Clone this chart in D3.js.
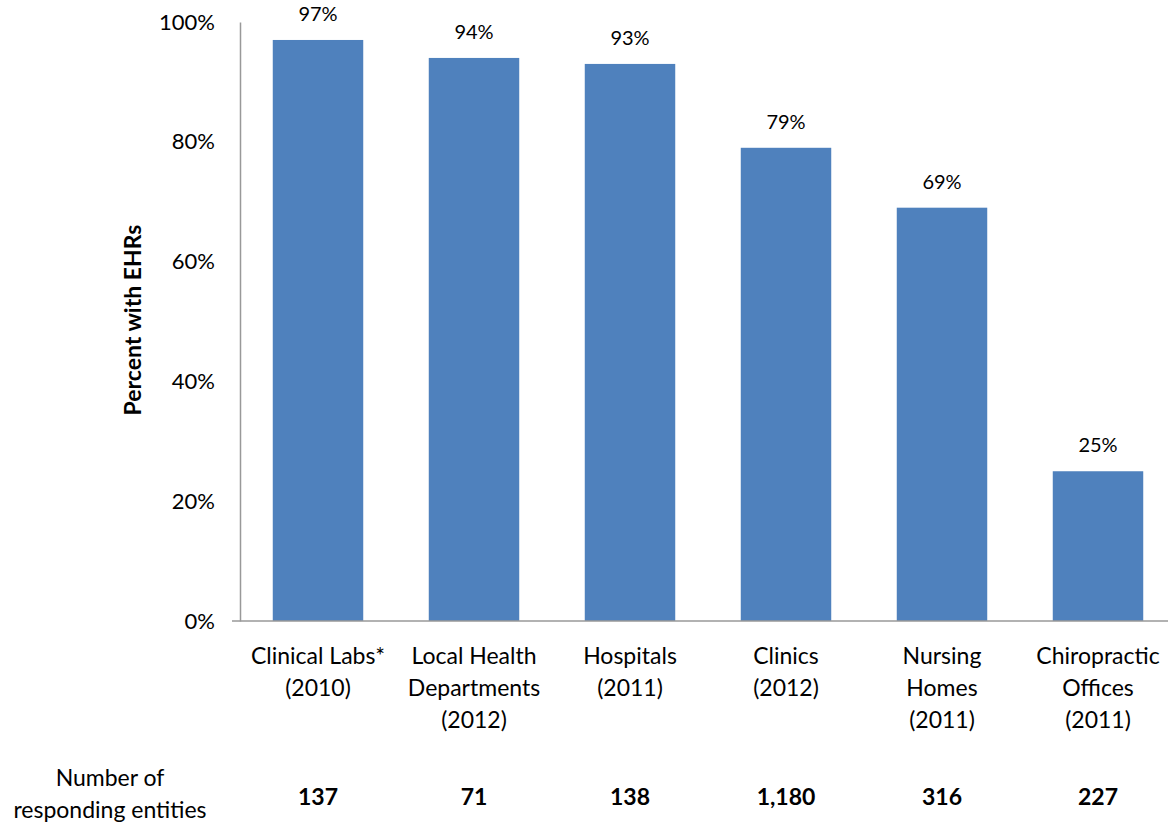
<!DOCTYPE html>
<html>
<head>
<meta charset="utf-8">
<script src="https://cdn.jsdelivr.net/npm/d3@7"></script>
<style>
  body { margin: 0; background: #fff; }
  text { font-family: Lato, "Open Sans", sans-serif; fill: #000; }
</style>
</head>
<body>
<div id="myVis"></div>
<script>
// chart data
const categories = [
  ["Clinical Labs*", "(2010)"],
  ["Local Health", "Departments", "(2012)"],
  ["Hospitals", "(2011)"],
  ["Clinics", "(2012)"],
  ["Nursing", "Homes", "(2011)"],
  ["Chiropractic", "Offices", "(2011)"]
]
const percents = [97, 94, 93, 79, 69, 25]
const respondents = ["137", "71", "138", "1,180", "316", "227"]
const yTicks = [0, 20, 40, 60, 80, 100]

var width = 1168, height = 827
var plot = {left: 240, right: 1176, top: 22, bottom: 621}

const svg = d3.select("#myVis")
    .append("svg")
        .attr("width", width)
        .attr("height", height)

var xScale = d3.scaleBand()
    .domain(d3.range(categories.length))
    .range([plot.left, plot.right])
    .paddingInner(0.42)
    .paddingOuter(0.21)

var yScale = d3.scaleLinear()
    .domain([0, 100])
    .range([plot.bottom, plot.top])

// y axis (no ticks, gray line)
const yAxis = svg.append("g")
    .attr("transform", "translate(" + plot.left + ",0)")
    .call(d3.axisLeft(yScale).tickValues(yTicks).tickSize(0).tickPadding(25).tickFormat(d => d + "%"))
yAxis.select(".domain").attr("stroke", "#999").attr("stroke-width", 1.5)
yAxis.selectAll("text")
    .style("font-size", "22px")
    .attr("font-family", null)

// bars
svg.selectAll("rect.bar")
    .data(percents)
    .enter()
    .append("rect")
        .attr("class", "bar")
        .attr("x", (d, i) => xScale(i))
        .attr("y", d => yScale(d))
        .attr("width", xScale.bandwidth())
        .attr("height", d => yScale(0) - yScale(d))
        .attr("fill", "#4F81BD")

// x axis line
svg.append("line")
    .attr("x1", 232)
    .attr("x2", width)
    .attr("y1", yScale(0))
    .attr("y2", yScale(0))
    .attr("stroke", "#999")
    .attr("stroke-width", 1.5)

// value labels
svg.selectAll("text.val")
    .data(percents)
    .enter()
    .append("text")
        .attr("class", "val")
        .attr("x", (d, i) => xScale(i) + xScale.bandwidth() / 2)
        .attr("y", d => yScale(d) - 19)
        .attr("text-anchor", "middle")
        .style("font-size", "20px")
        .text(d => d + "%")

// category labels
const cat = svg.selectAll("text.cat")
    .data(categories)
    .enter()
    .append("text")
        .attr("class", "cat")
        .attr("text-anchor", "middle")
        .style("font-size", "23px")
cat.selectAll("tspan")
    .data((d, i) => d.map(s => ({s: s, i: i})))
    .enter()
    .append("tspan")
        .attr("x", d => xScale(d.i) + xScale.bandwidth() / 2)
        .attr("y", (d, j) => 664 + j * 32)
        .text(d => d.s)

// number of responding entities
svg.selectAll("text.num")
    .data(respondents)
    .enter()
    .append("text")
        .attr("class", "num")
        .attr("x", (d, i) => xScale(i) + xScale.bandwidth() / 2)
        .attr("y", 805)
        .attr("text-anchor", "middle")
        .style("font-size", "23px")
        .style("font-weight", "bold")
        .text(d => d)

svg.append("text")
    .attr("x", 110)
    .attr("y", 786)
    .attr("text-anchor", "middle")
    .style("font-size", "23px")
    .text("Number of")
svg.append("text")
    .attr("x", 110)
    .attr("y", 818)
    .attr("text-anchor", "middle")
    .style("font-size", "23px")
    .text("responding entities")

// y-axis label
svg.append("text")
    .attr("transform", "translate(141," + 320 + ") rotate(-90)")
    .attr("text-anchor", "middle")
    .style("font-size", "23px")
    .style("font-weight", "bold")
    .text("Percent with EHRs")
</script>
</body>
</html>
